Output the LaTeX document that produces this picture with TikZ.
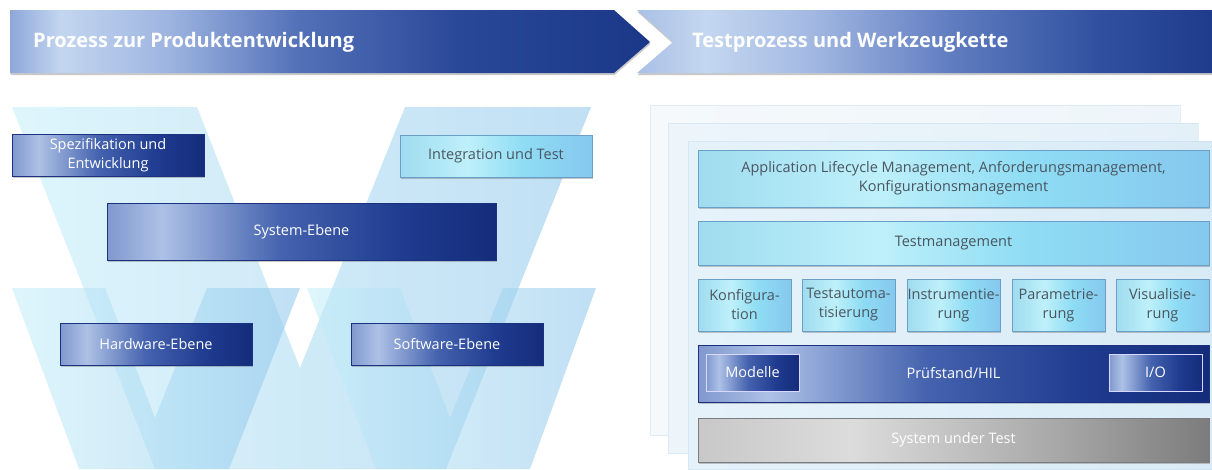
\documentclass[tikz,border=0pt]{standalone}
\usepackage{fontspec}
\setmainfont{Open Sans}
\usetikzlibrary{shadows}
\definecolor{db0}{HTML}{8098CE}\definecolor{db1}{HTML}{ADC1E6}\definecolor{db2}{HTML}{4462AE}\definecolor{db3}{HTML}{203C90}\definecolor{db4}{HTML}{142C7A}
\definecolor{cb0}{HTML}{9FDCEF}\definecolor{cb1}{HTML}{BEF0FA}\definecolor{cb2}{HTML}{8EDCF4}\definecolor{cb3}{HTML}{86C8EE}
\definecolor{gb0}{HTML}{C8C8C8}\definecolor{gb1}{HTML}{DCDCDC}\definecolor{gb2}{HTML}{A8A8A8}\definecolor{gb3}{HTML}{7C7C7C}
\definecolor{ba0}{HTML}{8EA7D8}\definecolor{ba1}{HTML}{C3D6F0}\definecolor{ba2}{HTML}{9DB4E0}\definecolor{ba3}{HTML}{5371B8}\definecolor{ba4}{HTML}{2A4898}\definecolor{ba5}{HTML}{1B3888}
\definecolor{bb0}{HTML}{A9C0E6}\definecolor{bb1}{HTML}{C4D7F0}\definecolor{bb2}{HTML}{A3B9E2}\definecolor{bb3}{HTML}{5F7CC0}\definecolor{bb4}{HTML}{3151A0}\definecolor{bb5}{HTML}{1F3B8B}
\definecolor{wl}{HTML}{C4EEF9}\definecolor{wr}{HTML}{8EC6EC}
\definecolor{txtgray}{HTML}{4A5560}
\definecolor{cborder}{HTML}{6AA0C8}
\definecolor{dborder}{HTML}{1C3280}
\definecolor{pA1}{HTML}{F5F9FC}\definecolor{pA2}{HTML}{EEF5FA}
\definecolor{pB1}{HTML}{EDF5FB}\definecolor{pB2}{HTML}{E4F0F8}
\definecolor{pC1}{HTML}{E6F2FA}\definecolor{pC2}{HTML}{D9EBF6}
\definecolor{pedge}{HTML}{B8D4EA}
\pgfdeclarehorizontalshading{darkshade}{100bp}{color(0bp)=(db0); color(25bp)=(db0); color(32bp)=(db1); color(47.5bp)=(db2); color(62.5bp)=(db3); color(75bp)=(db4); color(100bp)=(db4)}
\pgfdeclarehorizontalshading{cyanshade}{100bp}{color(0bp)=(cb0); color(25bp)=(cb0); color(42.5bp)=(cb1); color(57.5bp)=(cb2); color(75bp)=(cb3); color(100bp)=(cb3)}
\pgfdeclarehorizontalshading{grayshade}{100bp}{color(0bp)=(gb0); color(25bp)=(gb0); color(40bp)=(gb1); color(60bp)=(gb2); color(75bp)=(gb3); color(100bp)=(gb3)}
\pgfdeclarehorizontalshading{bannerA}{100bp}{color(0bp)=(ba0); color(25bp)=(ba0); color(29bp)=(ba1); color(37.5bp)=(ba2); color(47.5bp)=(ba3); color(60bp)=(ba4); color(75bp)=(ba5); color(100bp)=(ba5)}
\pgfdeclarehorizontalshading{bannerB}{100bp}{color(0bp)=(bb0); color(25bp)=(bb0); color(31bp)=(bb1); color(40bp)=(bb2); color(52.5bp)=(bb3); color(65bp)=(bb4); color(75bp)=(bb5); color(100bp)=(bb5)}
\tikzset{
  softshadow/.style={drop shadow={shadow xshift=0.5pt,shadow yshift=-2pt,opacity=0.3,fill=black!70}},
  boxtext/.style={font=\fontsize{14.5}{19}\selectfont, align=center, inner sep=0pt, outer sep=0pt},
  darkbox/.style={boxtext, shade, shading=darkshade, draw=dborder, line width=0.6pt, text=white, softshadow},
  cyanbox/.style={boxtext, shade, shading=cyanshade, draw=cborder, line width=0.6pt, text=txtgray, softshadow},
  graybox/.style={boxtext, shade, shading=grayshade, draw=gb3, line width=0.6pt, text=white, softshadow},
  innerbox/.style={boxtext, shade, shading=darkshade, draw=white!85!blue, line width=0.9pt, text=white},
  vshape/.style={left color=wl, right color=wr, fill opacity=0.55, draw=none},
  panel/.style={draw=pedge, draw opacity=0.35, line width=0.6pt, drop shadow={shadow xshift=0pt,shadow yshift=-1pt,opacity=0.10,fill=pedge}},
  bannertext/.style={text=white, font=\bfseries\fontsize{20}{24}\selectfont, anchor=west, inner sep=0pt}
}
\begin{document}
\begin{tikzpicture}[x=1pt,y=-1pt]
\useasboundingbox (0,0) rectangle (1212,469);
\fill[white] (0,0) rectangle (1212,469);
% banners
\shade[shading=bannerA, softshadow] (10,10) -- (614,10) -- (650,42) -- (614,73) -- (10,73) -- cycle;
\shade[shading=bannerB, softshadow] (637,10) -- (1212,10) -- (1212,73) -- (637,73) -- (673,42) -- cycle;
\node[bannertext] (t1) at (33,42) {Prozess zur Produktentwicklung};
\node[bannertext] (t2) at (692,42) {Testprozess und Werkzeugkette};
% V shapes
\path[vshape] (12,107) -- (197,107) -- (300,368) -- (405,107) -- (591,107) -- (446,469) -- (155,469) -- cycle;
\path[vshape] (12,288) -- (105,288) -- (155,418) -- (207,288) -- (300,288) -- (229,469) -- (79,469) -- cycle;
\path[vshape] (307,288) -- (400,288) -- (450,418) -- (503,288) -- (596,288) -- (530,469) -- (376,469) -- cycle;
% left boxes
\node[darkbox, minimum width=192pt, minimum height=42pt] (spez) at (108,155) {Spezifikation und\\Entwicklung};
\node[cyanbox, minimum width=192pt, minimum height=42pt] (integ) at (496,156) {Integration und Test};
\node[darkbox, minimum width=389pt, minimum height=57pt] (sys) at (301.5,231.5) {System-Ebene};
\node[darkbox, minimum width=192pt, minimum height=42pt] (hw) at (156,344) {Hardware-Ebene};
\node[darkbox, minimum width=192pt, minimum height=42pt] (sw) at (447,344) {Software-Ebene};
% right panels
\fill[panel, left color=pA1, right color=pA2] (650,105) rectangle (1180,435);
\fill[panel, left color=pB1, right color=pB2] (668,123) rectangle (1198,453);
\fill[panel, left color=pC1, right color=pC2] (688,141) rectangle (1212,469);
% right boxes
\node[cyanbox, minimum width=511pt, minimum height=57pt] (alm) at (953.5,178.5) {Application Lifecycle Management, Anforderungsmanagement,\\Konfigurationsmanagement};
\node[cyanbox, minimum width=511pt, minimum height=44pt] (tm) at (953.5,243) {Testmanagement};
\node[cyanbox, minimum width=93pt, minimum height=52pt] (k1) at (744.5,305) {Konfigura-\\tion};
\node[cyanbox, minimum width=93pt, minimum height=52pt] (k2) at (848.5,305) {Testautoma-\\tisierung};
\node[cyanbox, minimum width=93pt, minimum height=52pt] (k3) at (953.5,305) {Instrumentie-\\rung};
\node[cyanbox, minimum width=93pt, minimum height=52pt] (k4) at (1058.5,305) {Parametrie-\\rung};
\node[cyanbox, minimum width=93pt, minimum height=52pt] (k5) at (1162.5,305) {Visualisie-\\rung};
\node[darkbox, minimum width=511pt, minimum height=57pt] (hil) at (953.5,373.5) {Prüfstand/HIL};
\node[innerbox, minimum width=93pt, minimum height=37pt] (mod) at (752.5,372.5) {Modelle};
\node[innerbox, minimum width=93pt, minimum height=37pt] (io) at (1155.5,372.5) {I/O};
\node[graybox, minimum width=511pt, minimum height=44pt] (sut) at (953.5,440) {System under Test};
\end{tikzpicture}
\end{document}
